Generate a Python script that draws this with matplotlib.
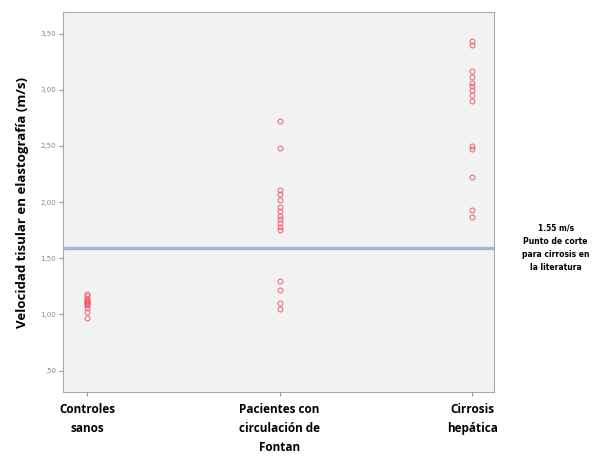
import numpy as np
import matplotlib.pyplot as plt

categories = ['Controles\nsanos', 'Pacientes con\ncirculación de\nFontan', 'Cirrosis\nhepática']
controles = [1.18, 1.16, 1.14, 1.13, 1.12, 1.11, 1.10, 1.09, 1.08, 1.06, 1.02, 0.97]
fontan = [2.72, 2.48, 2.11, 2.07, 2.02, 1.96, 1.92, 1.88, 1.85, 1.81, 1.78, 1.75,
          1.30, 1.22, 1.10, 1.05]
cirrosis = [3.43, 3.40, 3.17, 3.11, 3.06, 3.03, 3.00, 2.95, 2.90, 2.50, 2.47,
            2.22, 1.93, 1.87]
cutoff = 1.59
yticks = [0.5, 1.0, 1.5, 2.0, 2.5, 3.0, 3.5]
ytick_labels = [',50', '1,00', '1,50', '2,00', '2,50', '3,00', '3,50']

fig = plt.figure(figsize=(6.14, 4.68), dpi=100)
ax = fig.add_axes([0.1026, 0.1624, 0.702, 0.8116])
ax.set_facecolor('#f2f2f2')

groups = [controles, fontan, cirrosis]
for i, vals in enumerate(groups):
    ax.plot([i] * len(vals), vals, 'o', mfc='none', mec='#ee5a68',
            ms=3.5, mew=0.8, alpha=0.85)

ax.axhline(cutoff, color='#9db8d6', lw=2.4)

ax.set_xlim(-0.125, 2.114)
ax.set_ylim(0.31, 3.69)
ax.set_yticks(yticks)
ax.set_yticklabels(ytick_labels, fontsize=5, color='#888888')
ax.set_xticks(range(3))
ax.set_xticklabels(categories, fontsize=8.5, fontweight='bold', family='Open Sans',
                   linespacing=1.6)
ax.tick_params(axis='x', length=3, color='#999999', pad=5)
ax.tick_params(axis='y', length=3, color='#999999', pad=2)
for s in ax.spines.values():
    s.set_color('#aaaaaa')

ax.set_ylabel('Velocidad tisular en elastografía (m/s)', fontsize=9.5,
              fontweight='bold', family='Open Sans', labelpad=8)

fig.text(0.905, 0.47, '1.55 m/s\nPunto de corte\npara cirrosis en\nla literatura',
         ha='center', va='center', fontsize=5.5, fontweight='bold',
         family='Liberation Sans Narrow', linespacing=1.6)

fig.savefig('out.png', dpi=100)
